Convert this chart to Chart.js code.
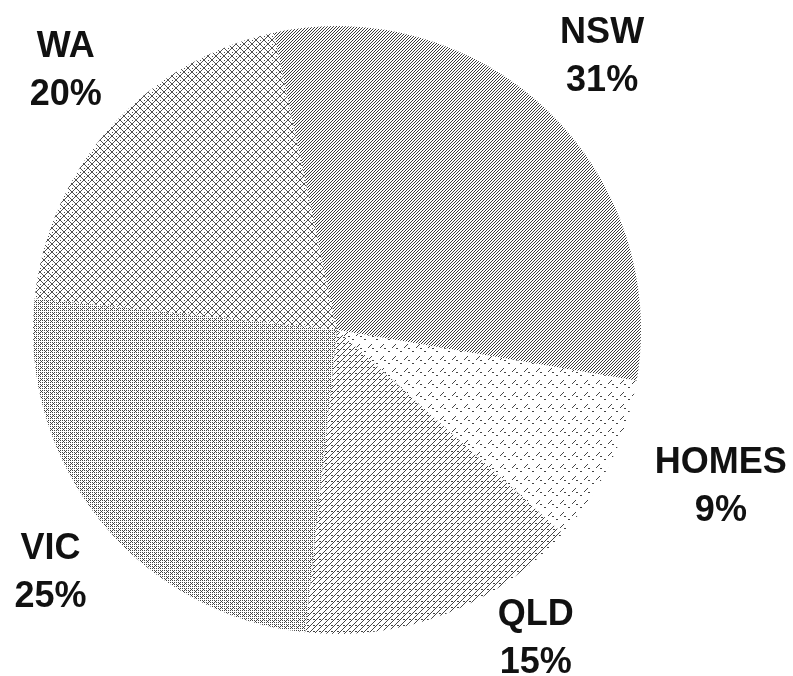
<!DOCTYPE html>
<html>
<head>
<meta charset="utf-8">
<script src="https://cdn.jsdelivr.net/npm/chart.js@4.4.1/dist/chart.umd.min.js"></script>
<style>
html, body { margin: 0; padding: 0; background: #fff; }
#wrap { width: 793px; height: 676px; }
</style>
</head>
<body>
<div id="wrap"><canvas id="pie"></canvas></div>
<script>
// slice data, clockwise from the top
const regions = ["NSW", "HOMES", "QLD", "VIC", "WA"];
const shares = [31, 9, 15, 25, 20];
const shareLabels = ["31%", "9%", "15%", "25%", "20%"];

// label placement: nudge of angle (deg) and distance as a factor of radius
const labelNudge = [0, -4, -12, -1, 2];
const labelDist = [1.26, 1.36, 1.20, 1.23, 1.24];

// stipple tiles, drawn pixel by pixel
function makePattern(w, h, pts, ink) {
    const c = document.createElement("canvas");
    c.width = w;
    c.height = h;
    const g = c.getContext("2d");
    g.fillStyle = "#fff";
    g.fillRect(0, 0, w, h);
    g.fillStyle = ink;
    pts.forEach(([x, y]) => g.fillRect(x, y, 1, 1));
    return g.createPattern(c, "repeat");
}

function nswTile() {
    // dense diagonal dashes
    let p = [];
    for (let i = 0; i < 3; i++) p.push([2 - i, i]);
    return makePattern(3, 3, p, "#3a3a3a");
}
function homesTile() {
    // sparse short dashes + faint diagonal
    let p = [[0, 0], [1, 0], [4, 3], [5, 3]];
    for (let i = 0; i < 4; i++) p.push([11 - i, 8 + i]);
    return makePattern(12, 12, p, "#444");
}
function qldTile() {
    // diagonal lines with small dot clusters
    let p = [];
    for (let i = 0; i < 6; i++) p.push([5 - i, i]);
    p.push([1, 1], [2, 1]);
    return makePattern(6, 6, p, "#444");
}
function vicTile() {
    // grid of dots with diagonal dashes
    let p = [];
    for (let x = 0; x < 6; x += 2)
        for (let y = 0; y < 6; y += 2) p.push([x, y]);
    p.push([5, 1], [4, 2], [3, 3]);
    return makePattern(6, 6, p, "#444");
}
function waTile() {
    // diamond lattice
    let p = [];
    for (let i = 0; i < 8; i++) {
        p.push([i, i]);
        p.push([7 - i, i]);
    }
    p.push([4, 0], [0, 4]);
    return makePattern(8, 8, p, "#505050");
}

const fills = [nswTile(), homesTile(), qldTile(), vicTile(), waTile()];

const labelPlugin = {
    id: "sliceLabels",
    afterDraw(chart) {
        const ctx = chart.ctx;
        const meta = chart.getDatasetMeta(0);
        ctx.save();
        ctx.font = "bold 36px 'Liberation Sans', Arial, sans-serif";
        ctx.textAlign = "center";
        ctx.textBaseline = "alphabetic";
        ctx.fillStyle = "#111";
        meta.data.forEach((arc, i) => {
            const a = arc.getProps(["x", "y", "startAngle", "endAngle", "outerRadius"], true);
            const mid = (a.startAngle + a.endAngle) / 2 + labelNudge[i] * Math.PI / 180;
            const r = a.outerRadius * labelDist[i];
            const cx = a.x + Math.cos(mid) * r;
            const cy = a.y + Math.sin(mid) * r;
            ctx.fillText(regions[i], cx, cy - 24 + 13);
            ctx.fillText(shareLabels[i], cx, cy + 24 + 13);
        });
        ctx.restore();
    }
};

new Chart(document.getElementById("pie"), {
    type: "pie",
    data: {
        labels: regions,
        datasets: [{
            data: shares,
            backgroundColor: fills,
            borderWidth: 0
        }]
    },
    options: {
        responsive: true,
        maintainAspectRatio: false,
        animation: false,
        rotation: -12,
        layout: { padding: { left: 33, right: 152, top: 26, bottom: 42 } },
        plugins: {
            legend: { display: false },
            tooltip: { enabled: false }
        }
    },
    plugins: [labelPlugin]
});
</script>
</body>
</html>
